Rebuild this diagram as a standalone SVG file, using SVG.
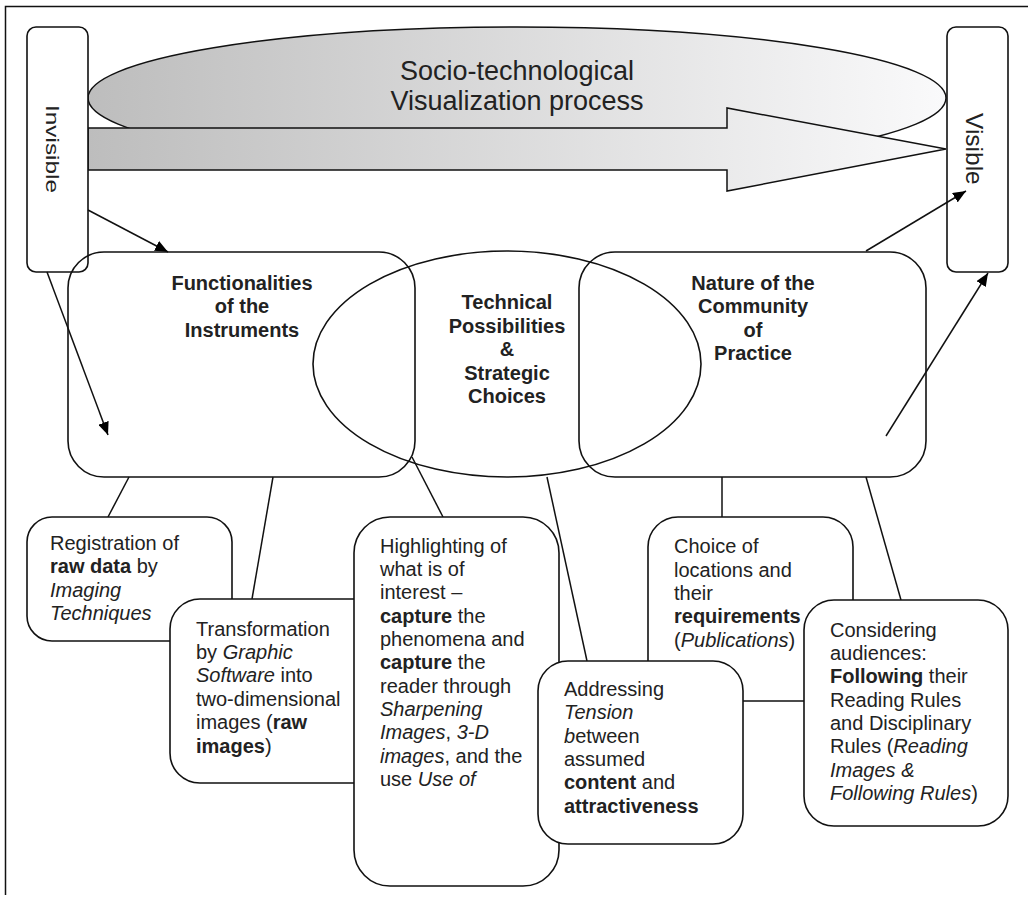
<svg xmlns="http://www.w3.org/2000/svg" width="1028" height="901" viewBox="0 0 1028 901">
<style>
text{font-family:"Liberation Sans",Arial,sans-serif;fill:#222;}
.t{font-size:20px;}
.b{font-weight:bold;}
.i{font-style:italic;}
.box{fill:#fff;stroke:#111;stroke-width:1.6;}
.hub{fill:none;stroke:#111;stroke-width:1.6;}
.ln{stroke:#111;stroke-width:1.5;fill:none;}
</style>
<defs>
<linearGradient id="g1" gradientUnits="userSpaceOnUse" x1="88" y1="0" x2="946" y2="0">
<stop offset="0" stop-color="#bdbdbd"/>
<stop offset="1" stop-color="#fafafb"/>
</linearGradient>
<marker id="ah" markerUnits="userSpaceOnUse" markerWidth="13" markerHeight="11" refX="13" refY="5.5" orient="auto">
<path d="M0,0 L13,5.5 L0,11 z" fill="#000"/>
</marker>
</defs>
<path d="M5.5,895 V6.5 H1028" fill="none" stroke="#111" stroke-width="1.5"/>
<g id="process">
<ellipse cx="517" cy="98" rx="429" ry="71" fill="url(#g1)" stroke="#111" stroke-width="1.5"/>
<polygon points="88,128 727,128 727,108 946,149 727,191 727,170 88,170" fill="url(#g1)" stroke="#111" stroke-width="1.5"/>
<text x="517" y="80" text-anchor="middle" font-size="27">Socio-technological</text>
<text x="517" y="110" text-anchor="middle" font-size="27">Visualization process</text>
</g>
<g id="invisible">
<rect x="27" y="27" width="61" height="245" rx="9" class="box"/>
<text transform="translate(46,105) rotate(90)" font-size="19" textLength="88" lengthAdjust="spacingAndGlyphs">Invisible</text>
</g>
<g id="visible">
<rect x="947" y="27" width="61" height="245" rx="9" class="box"/>
<text transform="translate(966,113) rotate(90)" font-size="24.5">Visible</text>
</g>
<g id="connectors">
<line x1="88" y1="210" x2="168" y2="252" class="ln" marker-end="url(#ah)"/>
<line x1="47" y1="272" x2="108" y2="435" class="ln" marker-end="url(#ah)"/>
<line x1="886" y1="436" x2="988" y2="273" class="ln" marker-end="url(#ah)"/>
<line x1="866" y1="251" x2="966" y2="191" class="ln" marker-end="url(#ah)"/>
<line x1="129" y1="477" x2="108" y2="517" class="ln"/>
<line x1="273" y1="477" x2="252" y2="599" class="ln"/>
<line x1="412" y1="457" x2="443" y2="517" class="ln"/>
<line x1="547" y1="477" x2="587" y2="661" class="ln"/>
<line x1="722" y1="477" x2="722" y2="517" class="ln"/>
<line x1="866" y1="477" x2="901" y2="600" class="ln"/>
</g>
<g id="functionalities">
<rect x="68" y="252" width="347" height="225" rx="36" class="hub"/>
<text class="t b" text-anchor="middle"><tspan x="242" y="290">Functionalities</tspan><tspan x="242" y="313">of the</tspan><tspan x="242" y="337">Instruments</tspan></text>
</g>
<g id="technical">
<ellipse cx="507" cy="364" rx="194" ry="113" class="hub"/>
<text class="t b" text-anchor="middle"><tspan x="507" y="309">Technical</tspan><tspan x="507" y="333">Possibilities</tspan><tspan x="507" y="356">&amp;</tspan><tspan x="507" y="380">Strategic</tspan><tspan x="507" y="403">Choices</tspan></text>
</g>
<g id="nature">
<rect x="579" y="252" width="347" height="225" rx="36" class="hub"/>
<text class="t b" text-anchor="middle"><tspan x="753" y="290">Nature of the</tspan><tspan x="753" y="313">Community</tspan><tspan x="753" y="337">of</tspan><tspan x="753" y="360">Practice</tspan></text>
</g>
<g id="registration">
<rect x="27" y="517" width="205" height="124" rx="25" class="box"/>
<text class="t"><tspan x="50" y="550">Registration of</tspan><tspan x="50" y="573"><tspan class="b">raw data</tspan> by</tspan><tspan x="50" y="597" class="i">Imaging</tspan><tspan x="50" y="620" class="i">Techniques</tspan></text>
</g>
<g id="transformation">
<rect x="170" y="599" width="215" height="184" rx="30" class="box"/>
<text class="t"><tspan x="196" y="636">Transformation</tspan><tspan x="196" y="659">by <tspan class="i">Graphic</tspan></tspan><tspan x="196" y="682"><tspan class="i">Software</tspan> into</tspan><tspan x="196" y="706">two-dimensional</tspan><tspan x="196" y="729">images (<tspan class="b">raw</tspan></tspan><tspan x="196" y="753"><tspan class="b">images</tspan>)</tspan></text>
</g>
<g id="highlighting">
<rect x="354" y="517" width="205" height="369" rx="36" class="box"/>
<text class="t"><tspan x="380" y="553">Highlighting of</tspan><tspan x="380" y="576">what is of</tspan><tspan x="380" y="599">interest –</tspan><tspan x="380" y="623"><tspan class="b">capture</tspan> the</tspan><tspan x="380" y="646">phenomena and</tspan><tspan x="380" y="669"><tspan class="b">capture</tspan> the</tspan><tspan x="380" y="693">reader through</tspan><tspan x="380" y="716" class="i">Sharpening</tspan><tspan x="380" y="739"><tspan class="i">Images</tspan>, <tspan class="i">3-D</tspan></tspan><tspan x="380" y="763"><tspan class="i">images</tspan>, and the</tspan><tspan x="380" y="786">use <tspan class="i">Use of</tspan></tspan></text>
</g>
<g id="choice">
<rect x="648" y="517" width="205" height="184" rx="30" class="box"/>
<text class="t"><tspan x="674" y="553">Choice of</tspan><tspan x="674" y="577">locations and</tspan><tspan x="674" y="600">their</tspan><tspan x="674" y="623" class="b">requirements</tspan><tspan x="674" y="647">(<tspan class="i">Publications</tspan>)</tspan></text>
</g>
<g id="addressing">
<rect x="538" y="661" width="205" height="183" rx="30" class="box"/>
<text class="t"><tspan x="564" y="696">Addressing</tspan><tspan x="564" y="719" class="i">Tension</tspan><tspan x="564" y="743"><tspan class="i">b</tspan>etween</tspan><tspan x="564" y="766">assumed</tspan><tspan x="564" y="789"><tspan class="b">content</tspan> and</tspan><tspan x="564" y="813" class="b">attractiveness</tspan></text>
</g>
<g id="considering">
<rect x="804" y="600" width="204" height="226" rx="30" class="box"/>
<text class="t"><tspan x="830" y="637">Considering</tspan><tspan x="830" y="660">audiences:</tspan><tspan x="830" y="683"><tspan class="b">Following</tspan> their</tspan><tspan x="830" y="707">Reading Rules</tspan><tspan x="830" y="730">and Disciplinary</tspan><tspan x="830" y="753">Rules (<tspan class="i">Reading</tspan></tspan><tspan x="830" y="777" class="i">Images &amp;</tspan><tspan x="830" y="800"><tspan class="i">Following Rules</tspan>)</tspan></text>
</g>
</svg>
